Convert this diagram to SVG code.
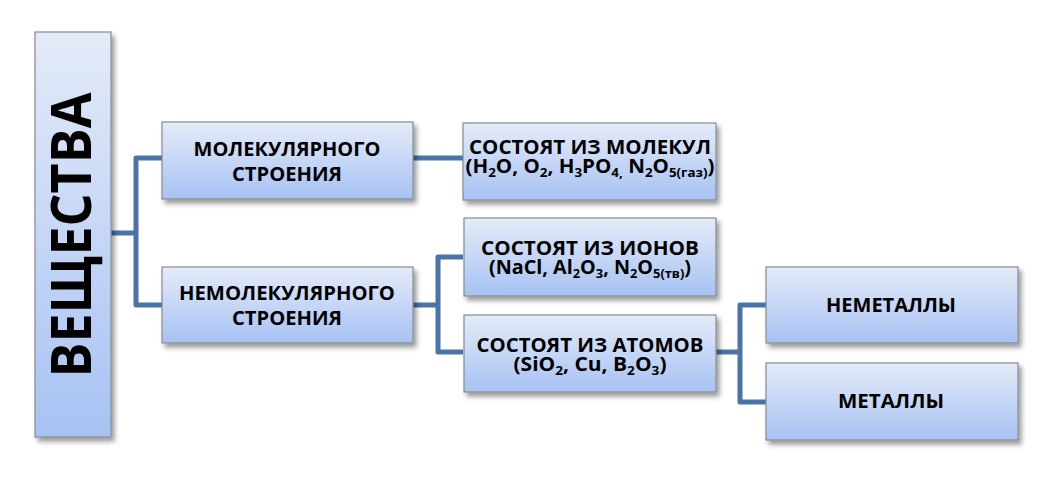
<svg xmlns="http://www.w3.org/2000/svg" width="1042" height="478" viewBox="0 0 1042 478">
<defs>
<linearGradient id="g" x1="0" y1="0" x2="0" y2="1">
<stop offset="0" stop-color="#e4ebf8"/>
<stop offset="1" stop-color="#a7c2f3"/>
</linearGradient>
<filter id="sh" x="-10%" y="-10%" width="125%" height="130%">
<feDropShadow dx="3" dy="4" stdDeviation="2.5" flood-color="#000" flood-opacity="0.4"/>
</filter>
</defs>
<style>
.box{fill:url(#g);stroke:#868a92;stroke-width:1.2;filter:url(#sh)}
.t{font-family:"Open Sans","Liberation Sans",sans-serif;font-weight:bold;font-size:20px;fill:#000;text-anchor:middle}
.s{font-size:13px}
.c{fill:none;stroke:#4a73a8;stroke-width:5;stroke-linejoin:round}
</style>
<rect width="1042" height="478" fill="#fff"/>
<g id="connectors">
<path class="c" d="M111,233 H136 M162,158 H136 V305 H162"/>
<path class="c" d="M413,158 H463"/>
<path class="c" d="M413,305 H438 M463,257 H438 V352 H463"/>
<path class="c" d="M716,352 H740 M766,305 H740 V402 H766"/>
</g>
<g id="veshchestva">
<rect class="box" x="35" y="32" width="76" height="405"/>
<text class="t" style="font-size:56px" transform="translate(91,235) rotate(-90)" textLength="285" lengthAdjust="spacingAndGlyphs">ВЕЩЕСТВА</text>
</g>
<g id="molecular">
<rect class="box" x="162" y="122" width="251" height="77"/>
<text class="t" x="287" y="156" textLength="187" lengthAdjust="spacingAndGlyphs">МОЛЕКУЛЯРНОГО</text>
<text class="t" x="287" y="181" textLength="110" lengthAdjust="spacingAndGlyphs">СТРОЕНИЯ</text>
</g>
<g id="nonmolecular">
<rect class="box" x="162" y="267" width="251" height="76"/>
<text class="t" x="287" y="300" textLength="216" lengthAdjust="spacingAndGlyphs">НЕМОЛЕКУЛЯРНОГО</text>
<text class="t" x="287" y="325" textLength="110" lengthAdjust="spacingAndGlyphs">СТРОЕНИЯ</text>
</g>
<g id="molecules">
<rect class="box" x="463" y="123" width="253" height="77"/>
<text class="t" x="590" y="154" textLength="242" lengthAdjust="spacingAndGlyphs">СОСТОЯТ ИЗ МОЛЕКУЛ</text>
<text class="t" x="590" y="173" textLength="249" lengthAdjust="spacingAndGlyphs">(H<tspan class="s" dy="4">2</tspan><tspan dy="-4">O, O</tspan><tspan class="s" dy="4">2</tspan><tspan dy="-4">, H</tspan><tspan class="s" dy="4">3</tspan><tspan dy="-4">PO</tspan><tspan class="s" dy="4">4,</tspan><tspan dy="-4"> N</tspan><tspan class="s" dy="4">2</tspan><tspan dy="-4">O</tspan><tspan class="s" dy="4">5(газ)</tspan><tspan dy="-4">)</tspan></text>
</g>
<g id="ions">
<rect class="box" x="464" y="218" width="252" height="78"/>
<text class="t" x="590" y="255" textLength="218" lengthAdjust="spacingAndGlyphs">СОСТОЯТ ИЗ ИОНОВ</text>
<text class="t" x="590" y="274" textLength="202" lengthAdjust="spacingAndGlyphs">(NaCl, Al<tspan class="s" dy="4">2</tspan><tspan dy="-4">O</tspan><tspan class="s" dy="4">3</tspan><tspan dy="-4">, N</tspan><tspan class="s" dy="4">2</tspan><tspan dy="-4">O</tspan><tspan class="s" dy="4">5(тв)</tspan><tspan dy="-4">)</tspan></text>
</g>
<g id="atoms">
<rect class="box" x="464" y="315" width="252" height="77"/>
<text class="t" x="590" y="352" textLength="227" lengthAdjust="spacingAndGlyphs">СОСТОЯТ ИЗ АТОМОВ</text>
<text class="t" x="590" y="371" textLength="153" lengthAdjust="spacingAndGlyphs">(SiO<tspan class="s" dy="4">2</tspan><tspan dy="-4">, Cu, B</tspan><tspan class="s" dy="4">2</tspan><tspan dy="-4">O</tspan><tspan class="s" dy="4">3</tspan><tspan dy="-4">)</tspan></text>
</g>
<g id="nonmetals">
<rect class="box" x="766" y="267" width="252" height="76"/>
<text class="t" x="891" y="312" textLength="130" lengthAdjust="spacingAndGlyphs">НЕМЕТАЛЛЫ</text>
</g>
<g id="metals">
<rect class="box" x="766" y="363" width="252" height="77"/>
<text class="t" x="891" y="408" textLength="106" lengthAdjust="spacingAndGlyphs">МЕТАЛЛЫ</text>
</g>
</svg>
